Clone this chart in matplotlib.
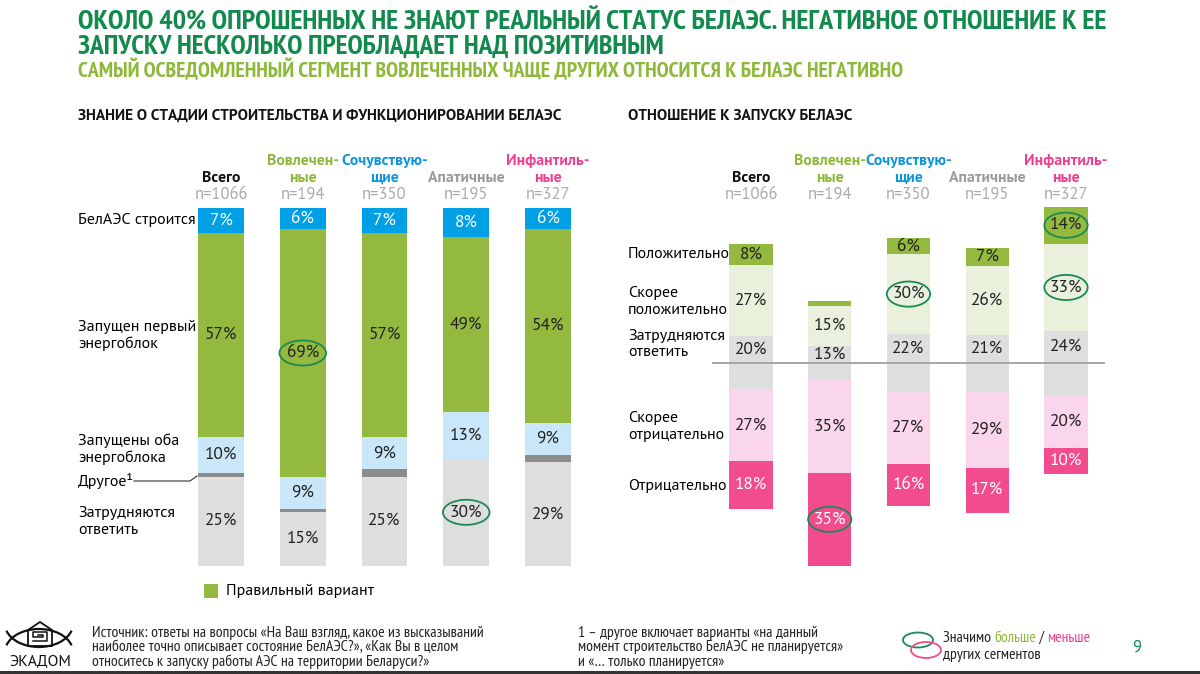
import matplotlib
matplotlib.use("Agg")
import matplotlib.pyplot as plt
from matplotlib.patches import Ellipse, Rectangle, Arc
from matplotlib.lines import Line2D
import numpy as np

plt.rcParams['font.family'] = ['PT Sans', 'DejaVu Sans']
NARROW = ['PT Sans Narrow', 'PT Sans', 'DejaVu Sans']

# ---------------- data ----------------
segments = ["Всего", "Вовлечен-\nные", "Сочувствую-\nщие", "Апатичные", "Инфантиль-\nные"]
seg_n = ["n=1066", "n=194", "n=350", "n=195", "n=327"]

# knowledge chart (top -> bottom)
know_labels = ["БелАЭС строится", "Запущен первый\nэнергоблок", "Запущены оба\nэнергоблока",
               "Другое¹", "Затрудняются\nответить"]
k_building = [7, 6, 7, 8, 6]
k_first = [57, 69, 57, 49, 54]
k_both = [10, 9, 9, 13, 9]
k_other = [1, 1, 2, 0, 2]
k_dk = [25, 15, 25, 30, 29]

# attitude chart
att_labels = ["Положительно", "Скорее\nположительно", "Затрудняются\nответить",
              "Скорее\nотрицательно", "Отрицательно"]
a_pos = [8, 2, 6, 7, 14]
a_rpos = [27, 15, 30, 26, 33]
a_neu = [20, 13, 22, 21, 24]
a_rneg = [27, 35, 27, 29, 20]
a_neg = [18, 35, 16, 17, 10]
a_pos_show = [True, False, True, True, True]

# ---------------- colours ----------------
DKGREEN = "#128a4e"
LTGREEN_T = "#8db83a"
GREEN = "#94b93f"
BLUE = "#00a0e6"
LBLUE = "#c9e7f8"
GRAY = "#dedede"
DGRAY = "#8c8c8c"
PALEG = "#e9f1dc"
LPINK = "#fad6ec"
PINK = "#f24b8e"
SEG_COLORS = ["#111111", "#8db83a", "#0c96dc", "#9a9a9a", "#ef3f8e"]
CIRC = "#1a8a55"

W, H = 1200, 674
fig = plt.figure(figsize=(12, 6.74), dpi=100)
fig.patch.set_facecolor("white")
fig.canvas.draw()
R = fig.canvas.get_renderer()


def T(x, y, s, **kw):
    return fig.text(x / W, 1 - y / H, s, **kw)


def fit(x, y, s, width, **kw):
    t = T(x, y, s, fontsize=10, **kw)
    w = t.get_window_extent(R).width
    t.set_fontsize(10 * width / w)
    return t


# ---------------- titles ----------------
fit(78, 22, "ОКОЛО 40% ОПРОШЕННЫХ НЕ ЗНАЮТ РЕАЛЬНЫЙ СТАТУС БЕЛАЭС. НЕГАТИВНОЕ ОТНОШЕНИЕ К ЕЕ",
    1032, family=NARROW, fontweight="bold", color=DKGREEN, va="center")
fit(78, 47, "ЗАПУСКУ НЕСКОЛЬКО ПРЕОБЛАДАЕТ НАД ПОЗИТИВНЫМ",
    587, family=NARROW, fontweight="bold", color=DKGREEN, va="center")
fit(78, 70, "САМЫЙ ОСВЕДОМЛЕННЫЙ СЕГМЕНТ ВОВЛЕЧЕННЫХ ЧАЩЕ ДРУГИХ ОТНОСИТСЯ К БЕЛАЭС НЕГАТИВНО",
    828, family=NARROW, fontweight="bold", color=LTGREEN_T, va="center")
fit(78, 116, "ЗНАНИЕ О СТАДИИ СТРОИТЕЛЬСТВА И ФУНКЦИОНИРОВАНИИ БЕЛАЭС",
    485, fontweight="bold", color="#111111", va="center")
fit(628, 116, "ОТНОШЕНИЕ К ЗАПУСКУ БЕЛАЭС",
    225, fontweight="bold", color="#111111", va="center")

FS = 12.5   # value labels
HS = 11.3   # column headers (bold)
NS = 12     # n= labels
LS = 11.5   # row labels


def headers(centers):
    for c, s, n, col in zip(centers, segments, seg_n, SEG_COLORS):
        lines = s.split("\n")
        if len(lines) == 2:
            T(c, 161, lines[0], fontsize=HS, fontweight="bold", color=col, ha="center", va="center")
            T(c, 178, lines[1], fontsize=HS, fontweight="bold", color=col, ha="center", va="center")
        else:
            T(c, 178, lines[0], fontsize=HS, fontweight="bold", color=col, ha="center", va="center")
        T(c, 195, n, fontsize=NS, color="#aaaaaa", ha="center", va="center")


# ---------------- left chart ----------------
lc0, lsp = 221, 81.75
lx0 = lc0 - 0.5 * lsp
lw = 5 * lsp
ly_top, ly_bot = 208, 566
axL = fig.add_axes([lx0 / W, 1 - ly_bot / H, lw / W, (ly_bot - ly_top) / H])
axL.set_xlim(-0.5, 4.5)
axL.set_ylim(100, 0)
axL.axis("off")
x = np.arange(5)
bw = 0.56
stack = [(k_building, BLUE, "white"), (k_first, GREEN, "#222222"), (k_both, LBLUE, "#222222"),
         (k_other, DGRAY, None), (k_dk, GRAY, "#222222")]
bottom = np.zeros(5)
centersL = {}
for si, (vals, col, tcol) in enumerate(stack):
    vals = np.array(vals, dtype=float)
    axL.bar(x, vals, bottom=bottom, width=bw, color=col, linewidth=0)
    if tcol is not None:
        for i in range(5):
            yc = bottom[i] + vals[i] / 2
            centersL[(si, i)] = yc
            axL.text(x[i], yc, f"{int(vals[i])}%", ha="center", va="center",
                     fontsize=FS, color=tcol)
    bottom += vals

headers([lc0 + i * lsp for i in range(5)])

# highlights left
for (si, i) in [(1, 1), (4, 3)]:
    axL.add_patch(Ellipse((x[i], centersL[(si, i)]), 0.57, 7.0, fill=False,
                          edgecolor=CIRC, linewidth=1.3))

# row labels left
T(78, 220, "БелАЭС строится", fontsize=LS, va="center")
T(78, 327, "Запущен первый", fontsize=LS, va="center")
T(78, 344, "энергоблок", fontsize=LS, va="center")
T(78, 441, "Запущены оба", fontsize=LS, va="center")
T(78, 458, "энергоблока", fontsize=LS, va="center")
T(78, 481, "Другое¹", fontsize=LS, va="center")
T(78, 513, "Затрудняются", fontsize=LS, va="center")
T(78, 530, "ответить", fontsize=LS, va="center")
fig.add_artist(Line2D([134 / W, 190 / W, 197 / W], [1 - 481 / H, 1 - 481 / H, 1 - 476 / H],
                      color="#333333", linewidth=0.8))

# legend
fig.add_artist(Rectangle((204 / W, 1 - 598 / H), 14 / W, 14 / H, facecolor=GREEN, edgecolor="none"))
T(226, 591, "Правильный вариант", fontsize=LS, va="center")

# ---------------- right chart ----------------
rc0, rsp = 751, 78.75
rx0 = rc0 - 0.5 * rsp
rw = 5 * rsp
pxu = 2.65
ry0 = 363
ytop, ybot = 62, -80
axR = fig.add_axes([rx0 / W, 1 - (ry0 - ybot * pxu) / H, rw / W, (ytop - ybot) * pxu / H])
axR.set_xlim(-0.5, 4.5)
axR.set_ylim(ybot, ytop)
axR.axis("off")
bw2 = 0.55
neu = np.array(a_neu, float)
rpos = np.array(a_rpos, float)
pos = np.array(a_pos, float)
rneg = np.array(a_rneg, float)
neg = np.array(a_neg, float)
axR.bar(x, neu, bottom=-neu / 2, width=bw2, color=GRAY, linewidth=0)
axR.bar(x, rpos, bottom=neu / 2, width=bw2, color=PALEG, linewidth=0)
axR.bar(x, pos, bottom=neu / 2 + rpos, width=bw2, color=GREEN, linewidth=0)
axR.bar(x, rneg, bottom=-neu / 2 - rneg, width=bw2, color=LPINK, linewidth=0)
axR.bar(x, neg, bottom=-neu / 2 - rneg - neg, width=bw2, color=PINK, linewidth=0)
axR.axhline(0, color="#a0a0a0", linewidth=1.3)
for i in range(5):
    axR.text(x[i], neu[i] / 4, f"{a_neu[i]}%", ha="center", va="center", fontsize=FS, color="#222222")
    axR.text(x[i], neu[i] / 2 + rpos[i] / 2, f"{a_rpos[i]}%", ha="center", va="center", fontsize=FS, color="#222222")
    if a_pos_show[i]:
        axR.text(x[i], neu[i] / 2 + rpos[i] + pos[i] / 2, f"{a_pos[i]}%", ha="center", va="center",
                 fontsize=FS, color="#222222")
    axR.text(x[i], -neu[i] / 2 - rneg[i] / 2, f"{a_rneg[i]}%", ha="center", va="center", fontsize=FS, color="#222222")
    axR.text(x[i], -neu[i] / 2 - rneg[i] - neg[i] / 2, f"{a_neg[i]}%", ha="center", va="center",
             fontsize=FS, color="white")

ew, eh = 0.55, 9.5
for i, yc in [(2, neu[2] / 2 + rpos[2] / 2), (4, neu[4] / 2 + rpos[4] + pos[4] / 2),
              (4, neu[4] / 2 + rpos[4] / 2), (1, -neu[1] / 2 - rneg[1] - neg[1] / 2)]:
    axR.add_patch(Ellipse((x[i], yc), ew, eh, fill=False, edgecolor=CIRC, linewidth=1.3))

headers([rc0 + i * rsp for i in range(5)])

T(628, 254, "Положительно", fontsize=LS, va="center")
T(628, 293, "Скорее", fontsize=LS, va="center")
T(628, 310, "положительно", fontsize=LS, va="center")
T(628, 336, "Затрудняются", fontsize=LS, va="center")
T(628, 352, "ответить", fontsize=LS, va="center")
T(628, 418, "Скорее", fontsize=LS, va="center")
T(628, 435, "отрицательно", fontsize=LS, va="center")
T(628, 486, "Отрицательно", fontsize=LS, va="center")

# ---------------- footer ----------------
src = ["Источник: ответы на вопросы «На Ваш взгляд, какое из высказываний",
       "наиболее точно описывает состояние БелАЭС?», «Как Вы в целом",
       "относитесь к запуску работы АЭС на территории Беларуси?»"]
f0 = fit(92, 633, src[0], 395, family=NARROW, va="center", color="#222222")
fsz = f0.get_fontsize()
for k, s in enumerate(src[1:], start=1):
    T(92, 633 + k * 14.5, s, fontsize=fsz, family=NARROW, va="center", color="#222222")
note = ["1 – другое включает варианты «на данный",
        "момент строительство БелАЭС не планируется»",
        "и «… только планируется»"]
for k, s in enumerate(note):
    T(578, 633 + k * 14.5, s, fontsize=fsz, family=NARROW, va="center", color="#222222")

fig.add_artist(Ellipse((918 / W, 1 - 640 / H), 30 / W, 15 / H, fill=False, edgecolor=CIRC, linewidth=1.3))
fig.add_artist(Ellipse((926 / W, 1 - 650 / H), 30 / W, 16 / H, fill=False, edgecolor=PINK, linewidth=1.3))
t1 = T(943, 638, "Значимо ", fontsize=fsz, family=NARROW, va="center", color="#222222")
xcur = t1.get_window_extent(R).x1
for s, c in [("больше", LTGREEN_T), (" / ", "#222222"), ("меньше", "#ef3f8e")]:
    tt = fig.text(xcur / W, 1 - 638 / H, s, fontsize=fsz, family=NARROW, va="center", color=c)
    xcur = tt.get_window_extent(R).x1
T(943, 655, "других сегментов", fontsize=fsz, family=NARROW, va="center", color="#222222")
T(1137, 648, "9", fontsize=12, va="center", ha="center", color=DKGREEN)

# logo
fig.add_artist(Arc((39 / W, 1 - 652 / H), 68 / W, 46 / H, theta1=20, theta2=160, color="#111111", linewidth=1.6))
fig.add_artist(Arc((39 / W, 1 - 624 / H), 68 / W, 46 / H, theta1=200, theta2=340, color="#111111", linewidth=1.6))
fig.add_artist(Line2D([28 / W, 28 / W, 40 / W, 52 / W, 52 / W, 28 / W],
                      [1 - 646 / H, 1 - 630 / H, 1 - 622 / H, 1 - 630 / H, 1 - 646 / H, 1 - 646 / H],
                      color="#111111", linewidth=1.3))
fig.add_artist(Line2D([33 / W, 47 / W, 47 / W, 33 / W, 33 / W, 43 / W, 43 / W, 38 / W],
                      [1 - 641 / H, 1 - 641 / H, 1 - 632 / H, 1 - 632 / H, 1 - 637 / H, 1 - 637 / H,
                       1 - 635 / H, 1 - 635 / H],
                      color="#111111", linewidth=1.1))
T(40, 661, "ЭКАДОМ", fontsize=fsz, va="center", ha="center", color="#111111")

# bottom border
fig.add_artist(Rectangle((0, 0), 1, 3 / H, facecolor="#333333", edgecolor="none"))

fig.savefig("out.png", dpi=100)
